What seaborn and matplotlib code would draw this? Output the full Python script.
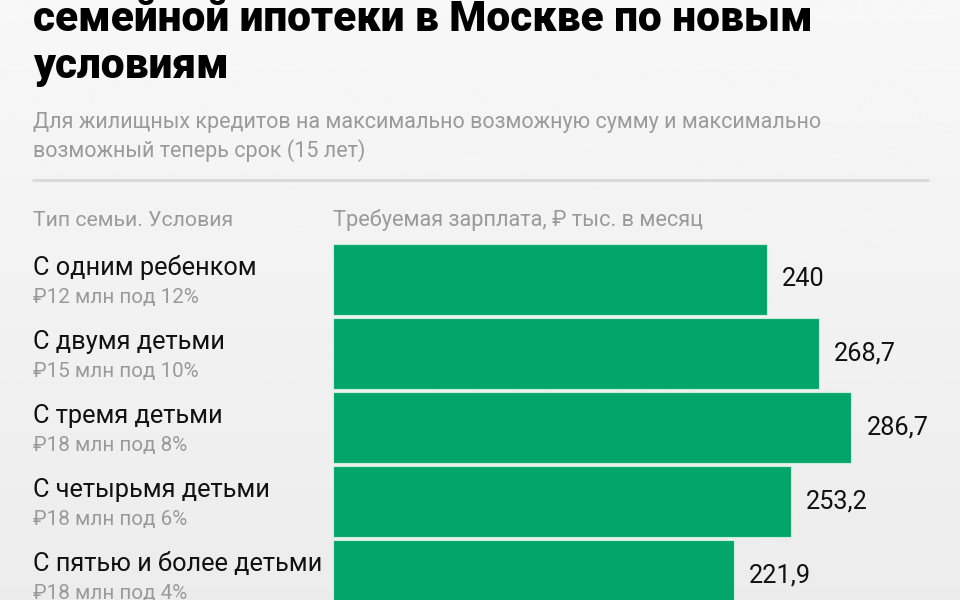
import numpy as np
import pandas as pd
import matplotlib
matplotlib.use("Agg")
import matplotlib.pyplot as plt
import seaborn as sns

# data
families = ["С одним ребенком", "С двумя детьми", "С тремя детьми",
            "С четырьмя детьми", "С пятью и более детьми"]
conditions = ["₽12 млн под 12%", "₽15 млн под 10%", "₽18 млн под 8%",
              "₽18 млн под 6%", "₽18 млн под 4%"]
salary = [240, 268.7, 286.7, 253.2, 221.9]
value_labels = ["240", "268,7", "286,7", "253,2", "221,9"]

title_lines = ["семейной ипотеки в Москве по новым", "условиям"]
subtitle_lines = ["Для жилищных кредитов на максимально возможную сумму и максимально",
                  "возможный теперь срок (15 лет)"]
col_left = "Тип семьи. Условия"
col_right = "Требуемая зарплата, ₽ тыс. в месяц"

GREEN = "#03a66a"
GRAY = "#9a9a9a"
W, H = 960, 600

sns.set_style("white")
plt.rcParams["font.family"] = ["Roboto", "DejaVu Sans"]

fig = plt.figure(figsize=(9.6, 6), dpi=100)

# background gradient
bg = fig.add_axes([0, 0, 1, 1], zorder=-10)
grad = np.linspace(0.97, 0.925, 256).reshape(-1, 1)
bg.imshow(grad, cmap="gray", vmin=0, vmax=1, aspect="auto", extent=[0, 1, 0, 1])
bg.set_axis_off()


def fx(px):
    return px / W


def fy(py):
    return 1 - py / H


# title (no condensed face available, so sized to the reference width)
fig.text(fx(33), fy(31), title_lines[0], fontsize=30.5, fontweight="heavy",
         color="black", va="baseline")
fig.text(fx(33), fy(78), title_lines[1], fontsize=30.5, fontweight="heavy",
         color="black", va="baseline")

# subtitle
fig.text(fx(33), fy(128), subtitle_lines[0], fontsize=15.5, color=GRAY, va="baseline")
fig.text(fx(33), fy(157), subtitle_lines[1], fontsize=15.5, color=GRAY, va="baseline")

# separator
fig.add_artist(plt.Line2D([fx(33), fx(928)], [fy(180), fy(180)],
                          color="#d9d9d9", lw=2))

# column headers
fig.text(fx(33), fy(226), col_left, fontsize=15.3, color=GRAY, va="baseline")
fig.text(fx(333), fy(226), col_right, fontsize=15.7, color=GRAY, va="baseline")

# bars
pitch = 74
top = 242.5
ax_left, ax_right = 333, W
xmax = (ax_right - ax_left) / 1.807
n_rows_vis = (H - top) / pitch
ax = fig.add_axes([fx(ax_left), 0, (ax_right - ax_left) / W, (H - top) / H])
df = pd.DataFrame({"family": families, "salary": salary})
sns.barplot(data=df, x="salary", y="family", orient="h", color=GREEN,
            saturation=1, width=0.96, edgecolor="#c9eedc", linewidth=0.8, ax=ax)
ax.set_xlim(0, xmax)
ax.set_ylim(-0.5 + n_rows_vis, -0.5)
ax.set_axis_off()
ax.patch.set_alpha(0)

for i, (v, lab) in enumerate(zip(salary, value_labels)):
    ax.text(v + 8.5, i, lab, fontsize=18.2, color="#111111", va="center", ha="left")

# row labels
for i, (fam, cond) in enumerate(zip(families, conditions)):
    yc = top + pitch * i
    fig.text(fx(33), fy(yc + 32.5), fam, fontsize=18.3, color="#111111", va="baseline")
    fig.text(fx(33), fy(yc + 60), cond, fontsize=14.9, color=GRAY, va="baseline")

fig.savefig("out.png", dpi=100)
